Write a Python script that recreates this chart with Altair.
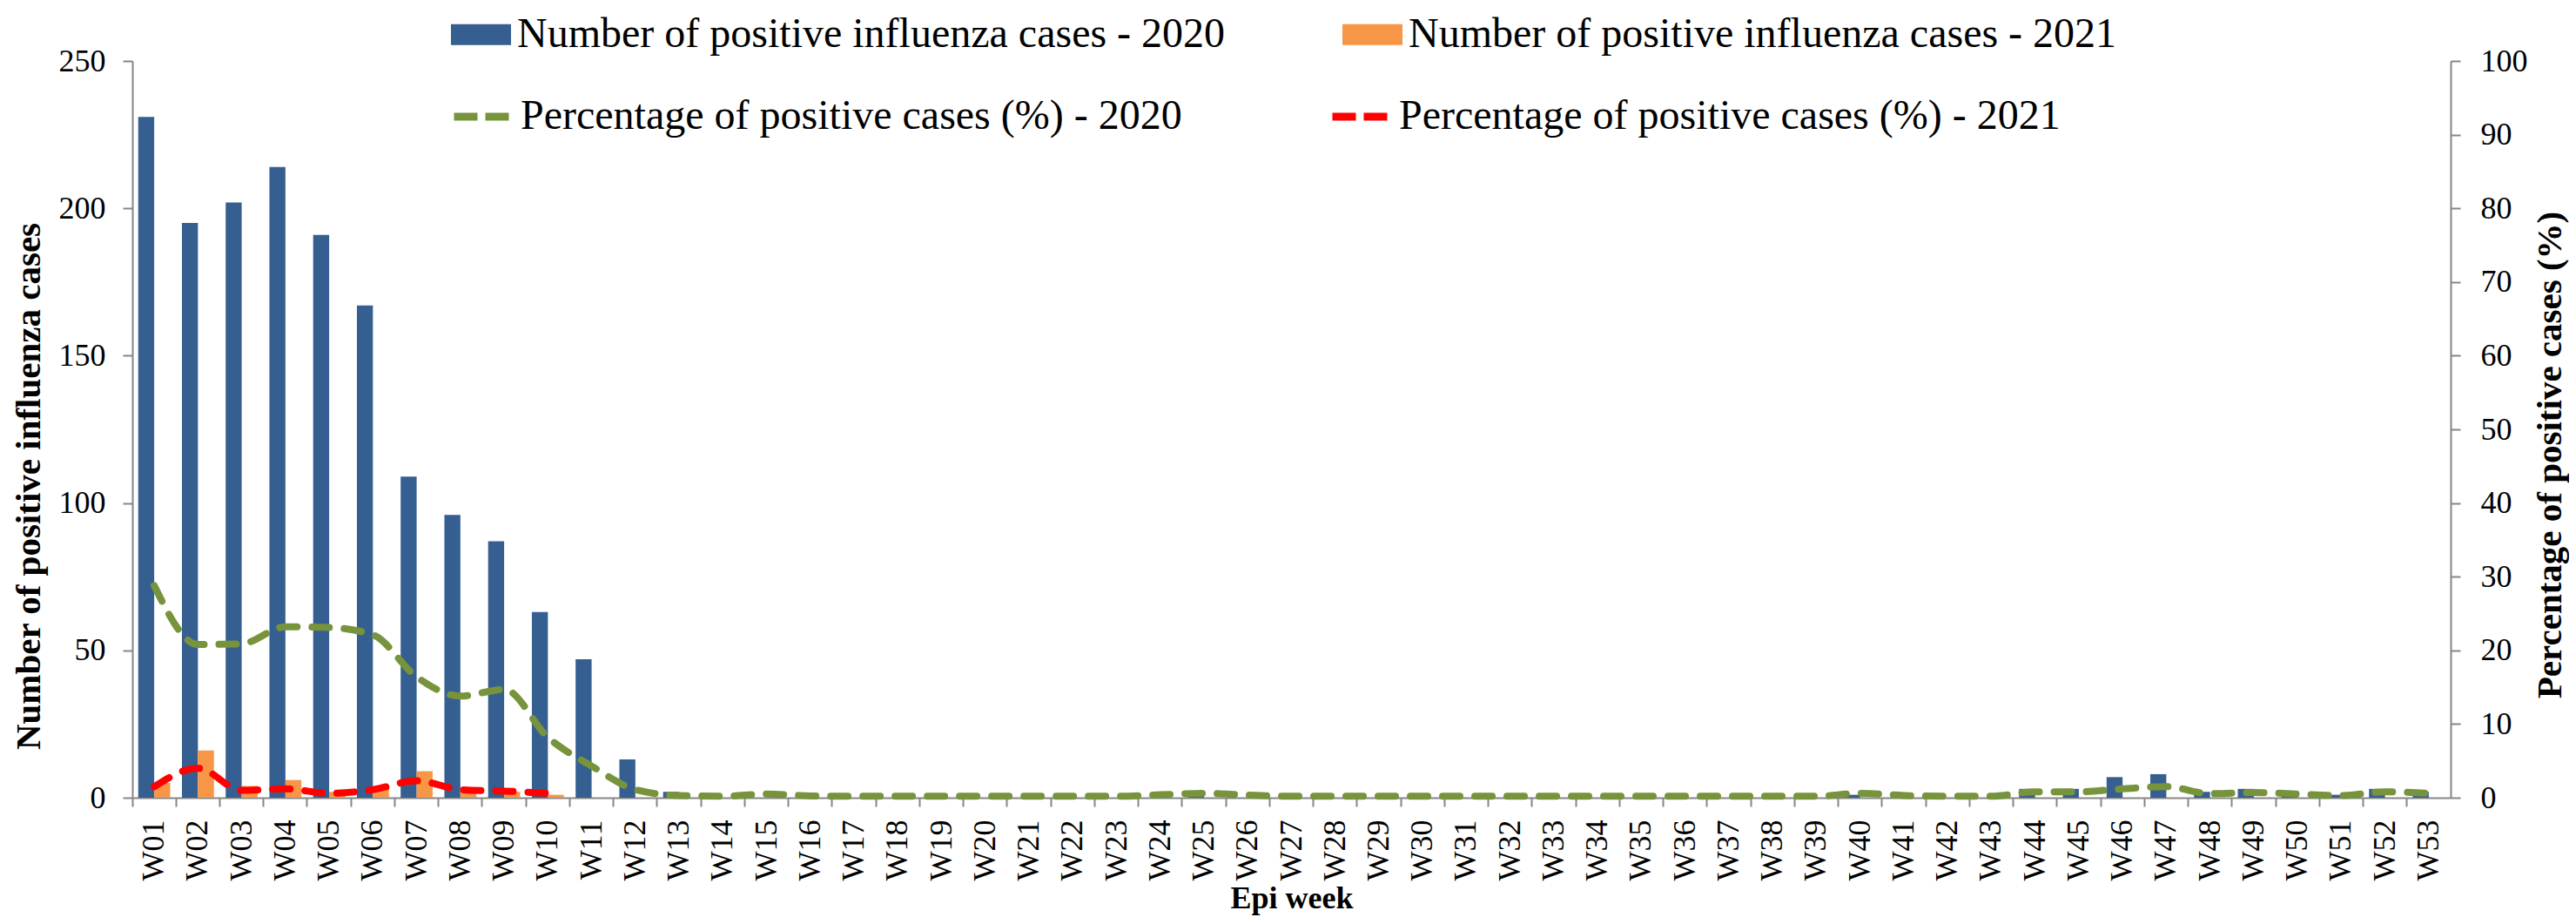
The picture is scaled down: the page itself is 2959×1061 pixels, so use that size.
import altair as alt
import pandas as pd

weeks = ["W%02d" % i for i in range(1, 54)]

s_bar20 = "Number of positive influenza cases  - 2020"
s_bar21 = "Number of positive influenza cases  - 2021"
s_pct20 = "Percentage of positive cases (%)  - 2020"
s_pct21 = "Percentage of positive cases (%)  - 2021"

cases_2020 = [231, 195, 202, 214, 191, 167, 109, 96, 87, 63, 47, 13, 2,
              0, 0, 0, 0, 0, 0, 0, 0, 0, 0, 0,
              1,
              0, 0, 0, 0, 0, 0, 0, 0, 0, 0, 0, 0, 0, 0,
              1,
              0, 0, 0,
              3, 3, 7, 8, 2, 3, 2, 1, 3, 2]
cases_2021 = [5, 16, 4, 6, 2, 3, 9, 3, 2, 1]

pct_2020 = [28.8, 20.8, 20.9, 23.2, 23.1, 22.1, 16.4, 13.8, 14.7, 8.2, 4.3, 1.1, 0.3,
            0.2, 0.5, 0.25,
            0.2, 0.2, 0.2, 0.2, 0.2, 0.2, 0.2,
            0.4, 0.6, 0.35,
            0.2, 0.2, 0.2, 0.2, 0.2, 0.2, 0.2, 0.2, 0.2, 0.2, 0.2, 0.2, 0.2,
            0.6, 0.3, 0.2, 0.2, 0.8, 0.8, 1.2, 1.5, 0.55, 0.7, 0.5, 0.3, 0.8, 0.6]
pct_2021 = [1.5, 4.0, 1.0, 1.2, 0.6, 1.1, 2.3, 1.1, 0.9, 0.6]

left_ticks = [0, 50, 100, 150, 200, 250]
right_ticks = [0, 10, 20, 30, 40, 50, 60, 70, 80, 90, 100]

bar_rows = [{"week": w, "series": s_bar20, "value": v} for w, v in zip(weeks, cases_2020)]
bar_rows += [{"week": w, "series": s_bar21, "value": v} for w, v in zip(weeks, cases_2021)]
df_bars = pd.DataFrame(bar_rows)

line_rows = [{"week": w, "series": s_pct20, "pct": v} for w, v in zip(weeks, pct_2020)]
line_rows += [{"week": w, "series": s_pct21, "pct": v} for w, v in zip(weeks, pct_2021)]
df_lines = pd.DataFrame(line_rows)

FONT = "Liberation Serif"
GREY = "#868686"

x_enc = alt.X(
    "week:N",
    sort=weeks,
    scale=alt.Scale(domain=weeks, paddingInner=0, paddingOuter=0),
    axis=alt.Axis(
        title="Epi week",
        labelAngle=270,
        labelFontSize=36,
        labelPadding=15,
        tickSize=10,
        bandPosition=0,
        titleFontSize=36,
        titleFontWeight="bold",
        titleY=126,
        titleBaseline="alphabetic",
    ),
)

bars = alt.Chart(df_bars).mark_bar(strokeWidth=0).encode(
    x=x_enc,
    xOffset=alt.XOffset(
        "series:N",
        scale=alt.Scale(domain=[s_bar20, s_bar21], paddingInner=0, paddingOuter=0.367),
    ),
    y=alt.Y(
        "value:Q",
        scale=alt.Scale(domain=[0, 250], nice=False),
        axis=alt.Axis(
            values=left_ticks,
            title="Number of positive influenza cases",
            titleFontSize=41,
            titleFontWeight="bold",
            titleAngle=270,
            titleBaseline="alphabetic",
            titleAlign="center",
            titleX=-107,
            titleY=488,
            labelFontSize=36,
            labelPadding=20,
            tickSize=11,
        ),
    ),
    fill=alt.Fill(
        "series:N",
        scale=alt.Scale(domain=[s_bar20, s_bar21], range=["#365F91", "#F79646"]),
        legend=alt.Legend(
            title=None,
            orient="none",
            legendX=366,
            legendY=-65,
            direction="horizontal",
            columns=2,
            columnPadding=122,
            symbolType="M-1,-0.35L1,-0.35L1,0.35L-1,0.35Z",
            symbolSize=4761,
            symbolStrokeWidth=0,
            labelOffset=7,
        ),
    ),
)

lines = alt.Chart(df_lines).mark_line(
    strokeWidth=8, strokeDash=[20, 17], strokeCap="round", interpolate="monotone"
).encode(
    x=alt.X("week:N", sort=weeks),
    y=alt.Y(
        "pct:Q",
        scale=alt.Scale(domain=[0, 100], nice=False),
        axis=alt.Axis(
            orient="right",
            values=right_ticks,
            title="Percentage of positive cases (%)",
            titleFontSize=41,
            titleFontWeight="bold",
            titleAngle=270,
            titleBaseline="alphabetic",
            titleAlign="center",
            titleX=126,
            titleY=452,
            labelFontSize=36,
            labelPadding=23,
            tickSize=11,
        ),
    ),
    stroke=alt.Stroke(
        "series:N",
        scale=alt.Scale(domain=[s_pct20, s_pct21], range=["#77933C", "#FF0000"]),
        legend=alt.Legend(
            title=None,
            orient="none",
            legendX=365,
            legendY=28,
            direction="horizontal",
            columns=2,
            columnPadding=142,
            symbolType="stroke",
            symbolSize=3969,
            symbolStrokeWidth=9,
            symbolDash=[27, 9],
            labelOffset=9,
        ),
    ),
)

chart = (
    alt.layer(bars, lines)
    .resolve_scale(y="independent", fill="independent", stroke="independent")
    .properties(
        width=2663,
        height=846,
        autosize=alt.AutoSizeParams(type="none"),
        padding={"left": 144, "top": 62, "right": 136, "bottom": 136},
    )
    .configure_axis(
        labelFont=FONT,
        titleFont=FONT,
        labelColor="black",
        titleColor="black",
        domainColor=GREY,
        tickColor=GREY,
        domainWidth=2,
        tickWidth=2,
        grid=False,
    )
    .configure_legend(
        labelFont=FONT,
        labelFontSize=48,
        labelColor="black",
        labelLimit=0,
        padding=0,
    )
    .configure_view(stroke=None)
)

chart.save("out.html", embed_options={"renderer": "svg", "actions": False})
